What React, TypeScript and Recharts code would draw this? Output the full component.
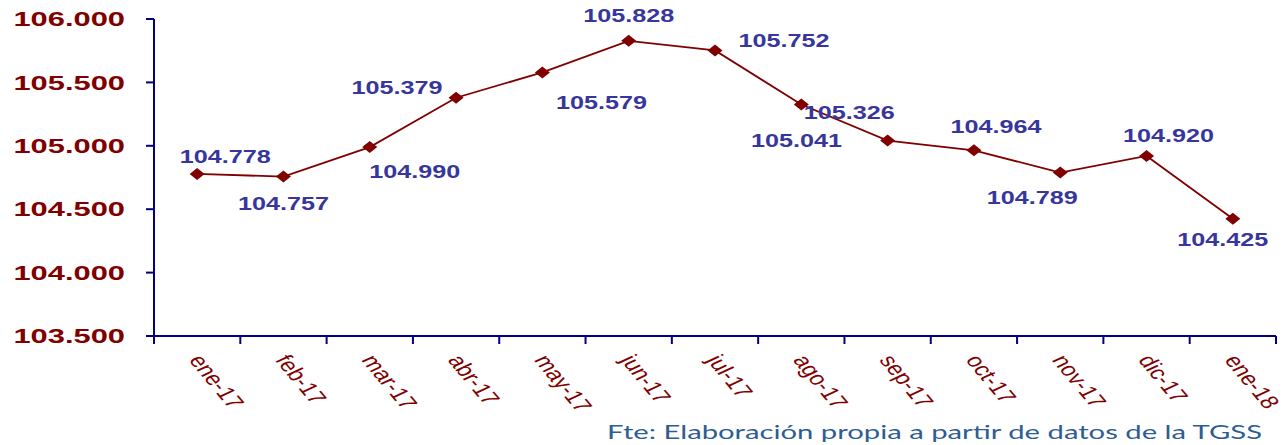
import React from 'react';
import { LineChart, Line, XAxis, YAxis, LabelList } from 'recharts';

const months = ['ene-17', 'feb-17', 'mar-17', 'abr-17', 'may-17', 'jun-17', 'jul-17', 'ago-17', 'sep-17', 'oct-17', 'nov-17', 'dic-17', 'ene-18'];
const values = [104.778, 104.757, 104.99, 105.379, 105.579, 105.828, 105.752, 105.326, 105.041, 104.964, 104.789, 104.92, 104.425];
const yTicks = [103.5, 104, 104.5, 105, 105.5, 106];
const sourceNote = 'Fte:  Elaboración propia a partir de datos de la TGSS';

// label placement (dx, dy) relative to each point
const labelOffsets: number[][] = [
  [28, -17], [0, 27], [45, 25], [-59, -10], [59, 30], [0, -25], [69, -10],
  [48, 8], [-91, 0], [22, -24], [-28, 25], [22, -20], [-10, 21],
];

const data = months.map((m, i) => ({ month: m, value: values[i] }));

const W = 1286;
const H = 445;
const margin = { top: 19, right: 10, bottom: 0, left: 0 };
const Y_AXIS_W = 154;
const X_AXIS_H = 109;
const plotW = W - margin.left - margin.right - Y_AXIS_W;
const halfBand = plotW / months.length / 2;

const AXIS = '#000080';
const RED = '#800000';
const BLUE = '#36369C';
const FONT = '"Liberation Sans", Arial, sans-serif';

const XTick = (props: any) => {
  const { x, y, payload, index } = props;
  const isLast = index === months.length - 1;
  return (
    <g>
      <line x1={x - halfBand} x2={x - halfBand} y1={y} y2={y + 8} stroke={AXIS} strokeWidth={2} />
      {isLast && <line x1={x + halfBand} x2={x + halfBand} y1={y} y2={y + 8} stroke={AXIS} strokeWidth={2} />}
      <text
        transform={`translate(${x - 9},${y + 24}) scale(1.34,1) rotate(58)`}
        fontSize={19}
        fill={RED}
        fontFamily={FONT}
        textAnchor="start"
      >
        {payload.value}
      </text>
    </g>
  );
};

const YTick = (props: any) => {
  const { y, payload } = props;
  return (
    <text
      transform={`translate(125,${y}) scale(1.47,1)`}
      textAnchor="end"
      dominantBaseline="central"
      fontSize={21}
      fontWeight="bold"
      fill={RED}
      fontFamily={FONT}
    >
      {Number(payload.value).toFixed(3)}
    </text>
  );
};

const ValueLabel = (props: any) => {
  const { x, y, value, index } = props;
  const off = labelOffsets[index] || [0, -20];
  return (
    <text
      transform={`translate(${x + off[0]},${y + off[1]}) scale(1.4,1)`}
      textAnchor="middle"
      dominantBaseline="central"
      fontSize={18}
      fontWeight="bold"
      fill={BLUE}
      fontFamily={FONT}
    >
      {Number(value).toFixed(3)}
    </text>
  );
};

const Diamond = (props: any) => {
  const { cx, cy, index } = props;
  return (
    <polygon
      key={`d-${index}`}
      points={`${cx},${cy - 6} ${cx + 7.5},${cy} ${cx},${cy + 6} ${cx - 7.5},${cy}`}
      fill={RED}
    />
  );
};

export default function App() {
  return (
    <div style={{ position: 'absolute', left: 0, top: 0, width: W, height: H, background: '#fff' }}>
      <LineChart width={W} height={H} data={data} margin={margin}>
        <XAxis
          dataKey="month"
          height={X_AXIS_H}
          padding={{ left: halfBand, right: halfBand }}
          axisLine={{ stroke: AXIS, strokeWidth: 2 }}
          tickLine={false}
          tickSize={0}
          tickMargin={0}
          tick={<XTick />}
          interval={0}
        />
        <YAxis
          width={Y_AXIS_W}
          domain={[103.5, 106]}
          ticks={yTicks}
          axisLine={{ stroke: AXIS, strokeWidth: 2 }}
          tickLine={{ stroke: AXIS, strokeWidth: 2 }}
          tickSize={8}
          tick={<YTick />}
          interval={0}
        />
        <Line
          dataKey="value"
          stroke={RED}
          strokeWidth={1.8}
          dot={<Diamond />}
          activeDot={false}
          isAnimationActive={false}
        >
          <LabelList dataKey="value" content={<ValueLabel />} />
        </Line>
      </LineChart>
      <svg width={W} height={H} style={{ position: 'absolute', left: 0, top: 0, pointerEvents: 'none' }}>
        <text
          x={607}
          y={439}
          fontSize={19}
          fill="#2E5C94"
          fontFamily='Lato, "Open Sans", sans-serif'
          textLength={655}
          lengthAdjust="spacingAndGlyphs"
        >
          {sourceNote}
        </text>
      </svg>
    </div>
  );
}
